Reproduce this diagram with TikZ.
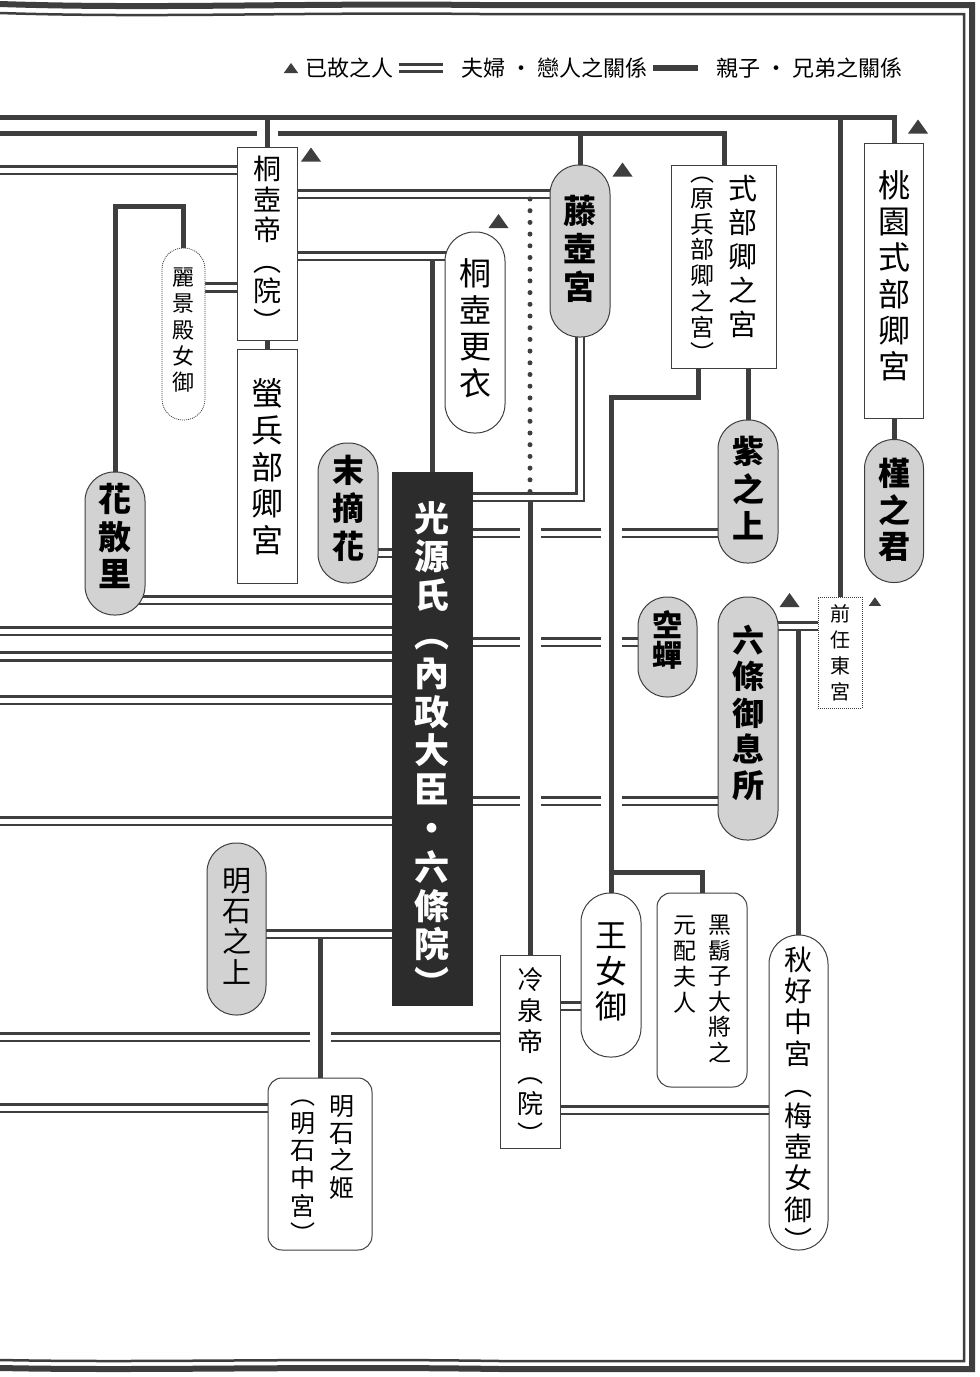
\documentclass[tikz,border=0pt]{standalone}
\usepackage{fontspec}
\setmainfont{Noto Sans CJK TC}
\usepackage{xcolor}
\usepackage{tikz}
\usetikzlibrary{backgrounds}
\definecolor{lc}{RGB}{62,62,62}
\definecolor{pg}{RGB}{210,210,210}
\definecolor{gk}{RGB}{44,44,44}
\newcommand\kfont[2]{\fontsize{#1}{#2}\selectfont}
\newcommand\kcol[1]{\vtop{\let\\\cr\halign{\hfil##\hfil\cr#1\crcr}}}
\newcommand\pin[2]{\rule[-#1]{0pt}{#1}\smash{#2}}
\tikzset{
	kin/.style={draw=lc, line width=5pt},
	wed/.style={draw=lc, line width=2.8pt, double=white, double distance=5pt},
	hop/.style={preaction={draw=white, line width=21pt, shorten <=#1, shorten >=#1}},
	hop/.default=10pt,
	dotline/.style={draw=lc, line width=5pt, line cap=round, dash pattern=on 0pt off 11.7pt},
	box/.style={draw=lc, line width=1pt, fill=white, inner sep=0pt},
	pill/.style={box, rounded corners=29pt},
	gpill/.style={pill, fill=pg},
	card/.style={box, rounded corners=14pt},
	ghost/.style={densely dotted, line width=0.8pt},
	hero/.style={box, fill=gk, draw=gk, text=white, font=\kfont{35pt}{38.8pt}\bfseries},
	rimA/.style={draw=lc, line width=6pt},
	rimB/.style={draw=lc, line width=2.5pt},
	dead/.pic={\fill[lc] (-10,7) -- (10,7) -- (0,-7) -- cycle;}
}
\begin{document}
\begin{tikzpicture}[x=1pt, y=-1pt]
	\useasboundingbox (0,0) rectangle (980,1377);

	% people
	\node[box, minimum width=60pt, minimum height=193pt, font=\kfont{28pt}{30.5pt}] (kiri) at (267,243.5) {\pin{128pt}{\kcol{桐\\壺\\帝\\︵\\院\\︶}}};
	\node[box, minimum width=60pt, minimum height=234pt, font=\kfont{32pt}{36.75pt}] (hotaru) at (267,466) {\pin{121pt}{\kcol{螢\\兵\\部\\卿\\宮}}};
	\node[pill, ghost, rounded corners=21pt, minimum width=43pt, minimum height=172pt, font=\kfont{22pt}{26.25pt}] (reikei) at (183.5,334) {\pin{97pt}{\kcol{麗\\景\\殿\\女\\御}}};
	\node[gpill, minimum width=60pt, minimum height=143pt, font=\kfont{33pt}{37.5pt}\bfseries] (hana) at (115,543.5) {\pin{64pt}{\kcol{花\\散\\里}}};
	\node[gpill, minimum width=60pt, minimum height=140pt, font=\kfont{32pt}{38pt}\bfseries] (suetsumu) at (348,513) {\pin{61pt}{\kcol{末\\摘\\花}}};
	\node[pill, minimum width=60pt, minimum height=201pt, font=\kfont{32pt}{36.7pt}] (koui) at (475,332.5) {\pin{94pt}{\kcol{桐\\壺\\更\\衣}}};
	\node[gpill, minimum width=60pt, minimum height=172pt, font=\kfont{33pt}{38pt}\bfseries] (fuji) at (580,251) {\pin{55pt}{\kcol{藤\\壺\\宮}}};
	\node[box, minimum width=105pt, minimum height=203pt] (shikibu) at (724,266.5) {\pin{170pt}{{\kfont{24pt}{25.8pt}\kcol{︵\\原\\兵\\部\\卿\\之\\宮\\︶}}\hspace{14pt}\raisebox{-18.4pt}{\kfont{29pt}{34pt}\kcol{式\\部\\卿\\之\\宮}}}};
	\node[box, minimum width=59pt, minimum height=275pt, font=\kfont{32pt}{36.2pt}] (momo) at (894,280.5) {\pin{166pt}{\kcol{桃\\園\\式\\部\\卿\\宮}}};
	\node[gpill, minimum width=60pt, minimum height=143pt, font=\kfont{32pt}{37.5pt}\bfseries] (murasaki) at (748,491.5) {\pin{56pt}{\kcol{紫\\之\\上}}};
	\node[gpill, minimum width=59pt, minimum height=143pt, font=\kfont{32pt}{36.5pt}\bfseries] (asagao) at (894,511) {\pin{51pt}{\kcol{槿\\之\\君}}};
	\node[hero, minimum width=80pt, minimum height=533pt] (genji) at (432,738.5) {\pin{415pt}{\kcol{光\\源\\氏\\︵\\內\\政\\大\\臣\\・\\六\\條\\院\\︶}}};
	\node[gpill, minimum width=59pt, minimum height=100pt, font=\kfont{30pt}{30.5pt}\bfseries] (utsusemi) at (667.5,647) {\pin{22pt}{\kcol{空\\蟬}}};
	\node[gpill, minimum width=60pt, minimum height=243pt, font=\kfont{32pt}{36.25pt}\bfseries] (rokujo) at (748,718.5) {\pin{132pt}{\kcol{六\\條\\御\\息\\所}}};
	\node[box, ghost, minimum width=44pt, minimum height=111pt, font=\kfont{20pt}{26pt}] (togu) at (840,652.5) {\pin{63pt}{\kcol{前\\任\\東\\宮}}};
	\node[gpill, minimum width=59pt, minimum height=172pt, font=\kfont{29pt}{30.7pt}] (akashi) at (236.5,929) {\pin{76pt}{\kcol{明\\石\\之\\上}}};
	\node[card, minimum width=104pt, minimum height=172pt] (akihime) at (320,1164) {\pin{119pt}{\hspace{5pt}{\kfont{25pt}{27.7pt}\kcol{︵\\明\\石\\中\\宮\\︶}}\hspace{14pt}\raisebox{-10.7pt}{\kfont{25pt}{27.3pt}\kcol{明\\石\\之\\姬}}}};
	\node[box, minimum width=60pt, minimum height=193pt, font=\kfont{26pt}{31pt}] (reizei) at (530,1051.5) {\pin{125pt}{\kcol{冷\\泉\\帝\\︵\\院\\︶}}};
	\node[pill, minimum width=60pt, minimum height=164pt, font=\kfont{32pt}{35.5pt}] (ounyo) at (611,975) {\pin{55pt}{\kcol{王\\女\\御}}};
	\node[card, minimum width=90pt, minimum height=194pt] (kuro) at (702,990) {\pin{113pt}{{\kfont{23pt}{26pt}\kcol{元\\配\\夫\\人}}\hspace{12pt}{\kfont{23pt}{25.6pt}\kcol{黑\\鬍\\子\\大\\將\\之}}}};
	\node[pill, minimum width=59pt, minimum height=315pt, font=\kfont{28pt}{31.2pt}] (akikonomu) at (798.5,1092.5) {\pin{244pt}{\kcol{秋\\好\\中\\宮\\︵\\梅\\壺\\女\\御\\︶}}};

	% the departed
	\pic at ([shift={(13.5,8)}]kiri.north east) {dead};
	\pic at ([shift={(-7,-10.5)}]koui.north east) {dead};
	\pic at ([shift={(12,5)}]fuji.north east) {dead};
	\pic at ([shift={(-6,-16)}]momo.north east) {dead};
	\pic at ([shift={(11,3.5)}]rokujo.north east) {dead};
	\pic[scale=0.62] at ([shift={(12.5,5)}]togu.north east) {dead};

	% legend
	\pic[scale=0.72] at (291,68) {dead};
	\node[anchor=west, font=\kfont{22pt}{22pt}] (lgdead) at (302,68) {已故之人};
	\node[anchor=west, font=\kfont{22pt}{22pt}] (lgwed) at (458,68) {夫婦 • 戀人之關係};
	\node[anchor=west, font=\kfont{22pt}{22pt}] (lgkin) at (713,68) {親子 • 兄弟之關係};

	\begin{scope}[on background layer]
		\draw[rimA] (0,4) .. controls (150,9) and (300,3) .. (480,5) -- (972,5) -- (972,1369) -- (500,1369) .. controls (300,1366) and (150,1371) .. (0,1368);
		\draw[rimB] (0,13) .. controls (150,18) and (300,12) .. (480,14) -- (964,14) -- (964,1361) -- (500,1361) .. controls (300,1358) and (150,1363) .. (0,1360);
		\draw[wed, line width=3pt, double distance=3.5pt] (399,68) -- (443,68);
		\draw[kin, line width=6pt] (653,68) -- (698,68);

		% marriages
		\coordinate (w0) at (0,170);
		\draw[wed] (w0) -- (w0 -| kiri);
		\draw[wed] (kiri.center |- 0,194) -- (fuji.center |- 0,194);
		\draw[wed] (kiri.center |- 0,256) -- (koui.center |- 0,256);
		\draw[wed] (kiri.center |- 0,287.5) -- (reikei.center |- 0,287.5);
		\draw[wed] (fuji.center) |- (genji.center |- 0,497);
		\draw[wed] (suetsumu.center |- 0,553) -- (genji.center |- 0,553);
		\draw[wed] (hana.center |- 0,600) -- (genji.center |- 0,600);
		\foreach \y [count=\i] in {631,656.5,700,821} {
			\coordinate (w\i) at (0,\y);
			\draw[wed] (w\i) -- (w\i -| genji);
		}
		\draw[wed] (genji.center |- 0,533) -- (murasaki.center |- 0,533);
		\draw[wed] (genji.center |- 0,642) -- (utsusemi.center |- 0,642);
		\draw[wed] (genji.center |- 0,801) -- (rokujo.center |- 0,801);
		\draw[wed] (rokujo.center |- 0,626) -- (togu.center |- 0,626);
		\draw[wed] (akashi.center |- 0,934) -- (genji.center |- 0,934);
		\coordinate (w5) at (0,1037);
		\draw[wed] (w5) -- (w5 -| reizei);
		\coordinate (w6) at (0,1108);
		\draw[wed] (w6) -- (w6 -| akihime);
		\draw[wed] (reizei.center |- 0,1006) -- (ounyo.center |- 0,1006);
		\draw[wed] (reizei.center |- 0,1110) -- (akikonomu.center |- 0,1110);

		% parents and children
		\coordinate (t0) at (0,117);
		\coordinate (t1) at (0,133);
		\draw[kin] (t0) -| (momo.north);
		\draw[kin] (t1) -| (shikibu.north);
		\draw[kin, hop=6pt] (kiri.north) -- (kiri.north |- t0);
		\draw[kin] (fuji.north) -- (fuji.north |- t1);
		\draw[kin] (togu.north) -- (togu.north |- t0);
		\draw[kin] (hotaru.north) -- (kiri.south);
		\draw[kin] (hana.north) -- ++(0,-265) -| (reikei.north);
		\draw[kin, shorten <=4pt] (genji.north |- 0,256) -- (genji.north);
		\draw[dotline] (reizei.north |- 0,199) -- (reizei.north |- 0,492);
		\draw[kin, hop, shorten <=4pt] (reizei.north |- 0,497) -- (reizei.north);
		\coordinate (sk) at ([xshift=-26pt]shikibu.south);
		\draw[kin, hop] (sk) -- ++(0,29) -| (ounyo.north);
		\draw[kin] (ounyo.north |- 0,872) -| (kuro.north);
		\draw[kin] (murasaki.north) -- (murasaki.north |- shikibu.south);
		\draw[kin] (asagao.north) -- (momo.south);
		\draw[kin, shorten <=4pt] (akikonomu.north |- 0,626) -- (akikonomu.north);
		\draw[kin, hop, shorten <=4pt] (akihime.north |- 0,934) -- (akihime.north);
	\end{scope}
\end{tikzpicture}
\end{document}
